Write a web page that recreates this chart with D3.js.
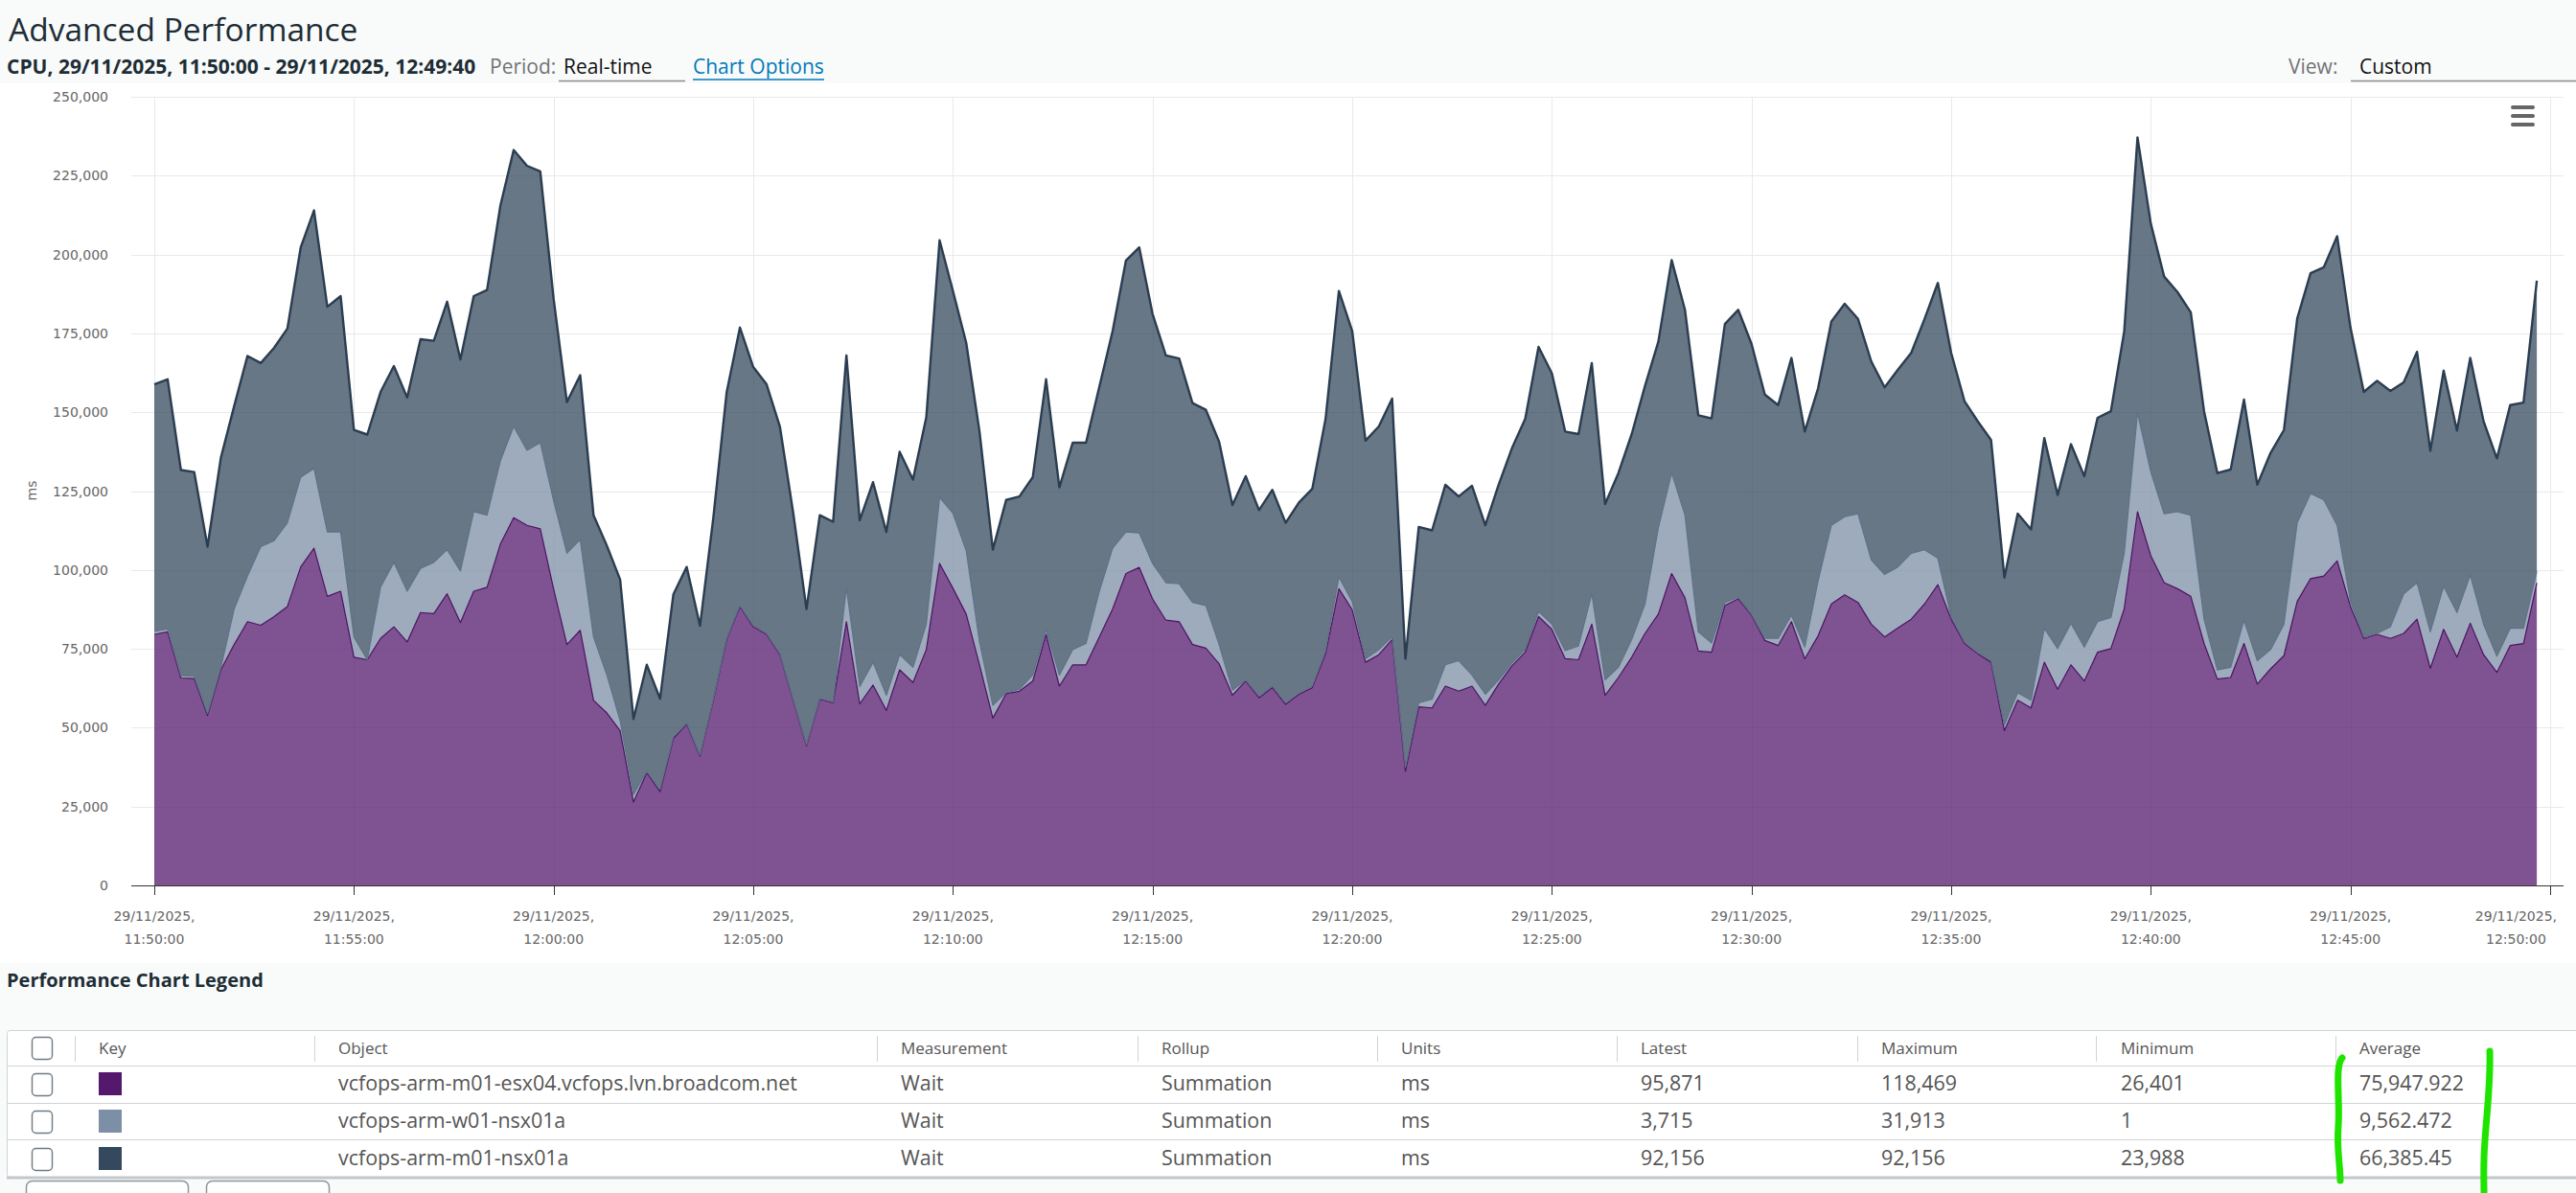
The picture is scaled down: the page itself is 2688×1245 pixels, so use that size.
<!DOCTYPE html>
<html><head><meta charset="utf-8">
<script src="https://cdn.jsdelivr.net/npm/d3@7"></script>
<style>body{margin:0;background:#f9fbfb;} svg{display:block}</style>
</head><body><svg id="c" width="2688" height="1245"></svg>
<script>
// ---------------- data ----------------
const startTime = new Date(2025, 10, 29, 11, 50, 0);
const stepSeconds = 20;
const seriesNames = ["vcfops-arm-m01-esx04.vcfops.lvn.broadcom.net", "vcfops-arm-w01-nsx01a", "vcfops-arm-m01-nsx01a"];
const seriesColors = ["#54186c", "#7d8fa6", "#34495e"];
const lineColors = ["#4b1262", "#5d7187", "#2b3d50"];

const esx04 = [79580,80390,65760,65600,53860,68330,76370,83600,82480,85210,
 88420,100960,106910,91640,93250,72350,71540,78290,81990,77170,
 86490,86170,92440,83280,93250,94530,108200,116560,114150,113020,
 94000,76370,80870,58680,54660,49030,26401,35690,29740,46620,
 51120,41000,58680,77970,88420,81990,79580,73150,58680,44210,
 59000,57880,83600,57560,63500,55470,68330,64310,74760,102090,
 94200,86010,69930,53050,60770,61570,64790,79580,63180,69930,
 69930,78780,87620,98870,100800,90840,84080,83600,76370,75240,
 70260,60290,64790,59480,62700,57390,60610,62700,73470,94050,
 87400,70740,73150,77970,36170,56590,56270,63180,61570,63180,
 57070,63830,69610,73950,85210,81190,71860,71540,82800,60290,
 65920,72350,79900,86010,98870,91160,74280,73950,88750,90840,
 85690,77650,76040,83600,71860,79100,89230,92120,89710,82800,
 78780,81670,84400,89230,95340,84400,76690,73470,70740,49030,
 58680,56270,70740,62220,69930,64790,73950,75080,87620,118469,
 104500,96000,94050,91640,76690,65430,65920,76690,63830,68650,
 72830,90030,97270,98070,102890,88420,78290,79580,78290,79900,
 84400,68810,81190,72350,83120,73150,67520,76040,76690,95871];

const w01nsx = [920,910,740,700,640,670,11250,14470,24910,24110,
 26530,28460,25240,20420,18810,6430,1,16240,20420,16080,
 13990,16240,13990,16400,25240,22830,26360,28940,23790,27330,
 28000,28930,28770,20100,12060,3220,2410,480,810,480,
 330,320,320,330,320,320,320,320,320,320,
 320,320,10770,5460,7240,4820,4820,4820,8040,20900,
 23800,20100,7240,4020,330,630,1930,1610,3540,4830,
 6760,14470,19290,13190,10940,11250,11900,12060,13340,13510,
 6110,1610,310,520,500,510,490,500,970,3700,
 2600,1120,1610,810,1290,1290,2730,6750,9650,3540,
 3540,1280,810,810,1610,1610,2580,4340,9640,4820,
 3210,5620,9330,27330,31913,26200,6110,2900,960,480,
 320,640,2250,2090,3700,17360,24920,24760,28130,20410,
 19770,19290,20900,17200,8360,810,510,530,460,1930,
 2410,2410,10770,12860,13190,10770,9650,9810,17680,31350,
 26530,21800,24440,25720,7710,2900,3210,7390,7390,6110,
 9970,24920,27000,24120,11260,1610,490,320,3700,12540,
 11580,11580,13660,14140,15270,9650,5150,5470,4820,3715];

const m01nsx = [78340,79150,65170,64730,52890,66530,64310,69770,58200,61100,
 61580,72830,81840,71380,74760,65590,71380,61900,62220,61410,
 72670,70260,78620,67040,68330,71380,80870,87620,90190,86010,
 64000,47910,52090,38580,41000,44690,23988,33760,28610,45180,
 49510,40990,57560,77970,88110,82000,78940,72030,59170,43090,
 58040,57070,73630,52730,57070,51770,64310,59490,65590,81510,
 70500,65910,66720,49360,61090,61110,62700,79260,59480,65590,
 63660,64790,68810,86010,90510,79100,72020,71380,63180,62050,
 64300,58680,64640,58970,62200,57050,60280,62520,73470,90670,
 85800,69140,70740,75560,34400,55780,53540,57080,52090,59970,
 53540,61900,68160,73150,83920,79580,69450,67210,73150,55790,
 61580,65120,69130,59000,67460,65110,68640,71220,88260,91150,
 85690,77330,73960,81510,68330,61090,64630,67520,61740,62870,
 59330,62540,63510,73150,87290,83600,76340,73100,69960,46630,
 56750,54180,60290,48710,56750,54180,64630,65430,70260,87290,
 78770,75200,69610,64310,65920,62380,62700,69940,55790,62380,
 61570,64790,69780,73790,91640,86820,77650,80070,74760,67040,
 73150,57390,68330,57720,68810,64300,62700,70740,71540,92156];

const yTickValues = [0,25000,50000,75000,100000,125000,150000,175000,200000,225000,250000];
const xTickDate = "29/11/2025,";
const xTickTimes = ["11:50:00","11:55:00","12:00:00","12:05:00","12:10:00","12:15:00","12:20:00","12:25:00","12:30:00","12:35:00","12:40:00","12:45:00","12:50:00"];

const tableHeaders = ["Key","Object","Measurement","Rollup","Units","Latest","Maximum","Minimum","Average"];
const measurements = ["Wait","Wait","Wait"];
const rollups = ["Summation","Summation","Summation"];
const units = ["ms","ms","ms"];
const latestVals = ["95,871","3,715","92,156"];
const maxVals = ["118,469","31,913","92,156"];
const minVals = ["26,401","1","23,988"];
const avgVals = ["75,947.922","9,562.472","66,385.45"];

// ---------------- drawing ----------------
const svg = d3.select("#c");
const UI = "'Open Sans', 'Noto Sans', sans-serif";
const AX = "'DejaVu Sans', Verdana, sans-serif";

svg.append("rect").attr("x",0).attr("y",0).attr("width",2688).attr("height",1245).attr("fill","#f9fbfb");
svg.append("rect").attr("x",0).attr("y",87).attr("width",2688).attr("height",918).attr("fill","#ffffff");

// header
svg.append("text").attr("x",9).attr("y",43).attr("font-family",UI).attr("font-size",33.5).attr("fill","#1e2d35").text("Advanced Performance");
svg.append("text").attr("x",7).attr("y",77).attr("font-family",UI).attr("font-size",21).attr("font-weight",700).attr("fill","#1e2d35")
  .text("CPU, 29/11/2025, 11:50:00 - 29/11/2025, 12:49:40");
svg.append("text").attr("x",511).attr("y",77).attr("font-family",UI).attr("font-size",21).attr("fill","#737373").text("Period:");
svg.append("text").attr("x",588).attr("y",77).attr("font-family",UI).attr("font-size",21).attr("fill","#111").text("Real-time");
svg.append("line").attr("x1",583).attr("x2",715).attr("y1",84.5).attr("y2",84.5).attr("stroke","#8c8c8c").attr("stroke-width",1.5);
svg.append("text").attr("x",723).attr("y",77).attr("font-family",UI).attr("font-size",21).attr("fill","#0079b8").text("Chart Options");
svg.append("line").attr("x1",723).attr("x2",860).attr("y1",83).attr("y2",83).attr("stroke","#0079b8").attr("stroke-width",1.5);
svg.append("text").attr("x",2388).attr("y",77).attr("font-family",UI).attr("font-size",21).attr("fill","#737373").text("View:");
svg.append("text").attr("x",2462).attr("y",77).attr("font-family",UI).attr("font-size",21).attr("fill","#111").text("Custom");
svg.append("line").attr("x1",2453).attr("x2",2688).attr("y1",84.5).attr("y2",84.5).attr("stroke","#8c8c8c").attr("stroke-width",1.5);

// scales
const endTime = new Date(startTime.getTime() + 60*60*1000);
const x = d3.scaleTime().domain([startTime, endTime]).range([161, 2661]);
const y = d3.scaleLinear().domain([0, 250000]).range([924, 101]);
const plotL = 137, plotR = 2675;

// gridlines
svg.append("g").selectAll("line").data(yTickValues).join("line")
  .attr("x1",plotL).attr("x2",plotR).attr("y1",d=>Math.round(y(d))+0.5).attr("y2",d=>Math.round(y(d))+0.5)
  .attr("stroke","#e9e9e9").attr("stroke-width",1);
const xTicks = xTickTimes.map((t,i)=> new Date(startTime.getTime() + i*5*60*1000));
svg.append("g").selectAll("line").data(xTicks).join("line")
  .attr("x1",d=>Math.round(x(d))+0.5).attr("x2",d=>Math.round(x(d))+0.5).attr("y1",101).attr("y2",924)
  .attr("stroke","#e9e9e9").attr("stroke-width",1);

// stacked areas
const rows = esx04.map((v,i)=>({t:new Date(startTime.getTime()+i*stepSeconds*1000), a:v, b:w01nsx[i], c:m01nsx[i]}));
const stack = d3.stack().keys(["a","b","c"]);
const layers = stack(rows);
const area = d3.area().x(d=>x(d.data.t)).y0(d=>y(d[0])).y1(d=>y(d[1]));
const line = d3.line().x(d=>x(d.data.t)).y(d=>y(d[1]));
svg.append("g").selectAll("path").data(layers).join("path")
  .attr("d",area).attr("fill",(d,i)=>seriesColors[i]).attr("fill-opacity",0.75);
svg.append("g").selectAll("path").data(layers).join("path")
  .attr("d",line).attr("fill","none").attr("stroke",(d,i)=>lineColors[i])
  .attr("stroke-width",(d,i)=> i===2 ? 2.4 : 1.2).attr("stroke-linejoin","round");

// axes
svg.append("line").attr("x1",plotL).attr("x2",plotR).attr("y1",924.5).attr("y2",924.5).attr("stroke","#333").attr("stroke-width",1);
svg.append("g").selectAll("line").data(xTicks).join("line")
  .attr("x1",d=>Math.round(x(d))+0.5).attr("x2",d=>Math.round(x(d))+0.5).attr("y1",924).attr("y2",934)
  .attr("stroke","#333").attr("stroke-width",1);

svg.append("g").selectAll("text").data(yTickValues).join("text")
  .attr("x",113).attr("y",d=>y(d)+5).attr("text-anchor","end")
  .attr("font-family",AX).attr("font-size",14).attr("fill","#666")
  .text(d=>d3.format(",")(d));
svg.append("text").attr("transform","translate(38,512) rotate(-90)").attr("text-anchor","middle")
  .attr("font-family",AX).attr("font-size",14).attr("fill","#666").text("ms");

const xl = svg.append("g").selectAll("g").data(xTicks).join("g");
xl.each(function(d,i){
  const g = d3.select(this);
  let cx = x(d);
  const t1 = g.append("text").attr("x",cx).attr("y",961).attr("text-anchor","middle")
    .attr("font-family",AX).attr("font-size",14).attr("fill","#666").text(xTickDate);
  const t2 = g.append("text").attr("x",cx).attr("y",985).attr("text-anchor","middle")
    .attr("font-family",AX).attr("font-size",14).attr("fill","#666").text(xTickTimes[i]);
  const w = Math.max(t1.node().getComputedTextLength(), t2.node().getComputedTextLength());
  if (cx + w/2 > 2668) { const nx = 2668 - w/2; t1.attr("x",nx); t2.attr("x",nx); }
});

// hamburger
svg.append("g").selectAll("rect").data([110,119,128]).join("rect")
  .attr("x",2620).attr("y",d=>d).attr("width",25).attr("height",4).attr("rx",2).attr("fill","#666");

// legend
svg.append("text").attr("x",7).attr("y",1030).attr("font-family",UI).attr("font-size",20).attr("font-weight",700).attr("fill","#1e2d35").text("Performance Chart Legend");
svg.append("rect").attr("x",7.5).attr("y",1075.5).attr("width",2690).attr("height",153).attr("rx",3).attr("fill","#fff").attr("stroke","#cfd3d6");
[1112,1151,1189].forEach(yy=> svg.append("line").attr("x1",8).attr("x2",2688).attr("y1",yy+0.5).attr("y2",yy+0.5).attr("stroke","#cfd3d6"));
svg.append("line").attr("x1",7).attr("x2",2688).attr("y1",1229).attr("y2",1229).attr("stroke","#c3c8cc").attr("stroke-width",3);

const sepX = [78,328,915,1187,1437,1687,1938,2187,2437];
svg.append("g").selectAll("line").data(sepX).join("line")
  .attr("x1",d=>d+0.5).attr("x2",d=>d+0.5).attr("y1",1081).attr("y2",1108).attr("stroke","#cfd3d6");
const colX = [103,353,940,1212,1462,1712,1963,2213,2462];
svg.append("g").selectAll("text").data(tableHeaders).join("text")
  .attr("x",(d,i)=>colX[i]).attr("y",1100).attr("font-family",UI).attr("font-size",17).attr("fill","#565656").text(d=>d);

// checkboxes
const cbY = [1082, 1120, 1159, 1198];
svg.append("g").selectAll("rect").data(cbY).join("rect")
  .attr("x",33.5).attr("y",d=>d+0.5).attr("width",21).attr("height",23).attr("rx",4)
  .attr("fill","#fff").attr("stroke","#6e7b84").attr("stroke-width",1.4);
const rowMid = [1131, 1170, 1209];
svg.append("g").selectAll("rect").data(seriesColors).join("rect")
  .attr("x",103).attr("y",(d,i)=>rowMid[i]-12).attr("width",24).attr("height",24).attr("fill",d=>d);
const rowsTxt = seriesNames.map((n,i)=>[n, measurements[i], rollups[i], units[i], latestVals[i], maxVals[i], minVals[i], avgVals[i]]);
rowsTxt.forEach((r,ri)=>{
  svg.append("g").selectAll("text").data(r).join("text")
    .attr("x",(d,i)=>colX[i+1]).attr("y",rowMid[ri]+7).attr("font-family",UI).attr("font-size",21.4)
    .attr("fill","#555").text(d=>d);
});

// bottom buttons (cut off)
svg.append("rect").attr("x",27.5).attr("y",1232.5).attr("width",169).attr("height",40).attr("rx",6).attr("fill","#fff").attr("stroke","#8c959c").attr("stroke-width",1.5);
svg.append("rect").attr("x",215.5).attr("y",1232.5).attr("width",128).attr("height",40).attr("rx",6).attr("fill","#fff").attr("stroke","#8c959c").attr("stroke-width",1.5);

// green hand-drawn marks
svg.append("path").attr("d","M2444,1104 C2436,1112 2442,1150 2440,1175 C2438,1200 2442,1215 2442,1232")
  .attr("fill","none").attr("stroke","#1ee400").attr("stroke-width",7).attr("stroke-linecap","round");
svg.append("path").attr("d","M2598,1097 C2599,1130 2595,1160 2593,1190 C2591,1215 2592,1230 2592,1245")
  .attr("fill","none").attr("stroke","#1ee400").attr("stroke-width",7).attr("stroke-linecap","round");
</script></body></html>
